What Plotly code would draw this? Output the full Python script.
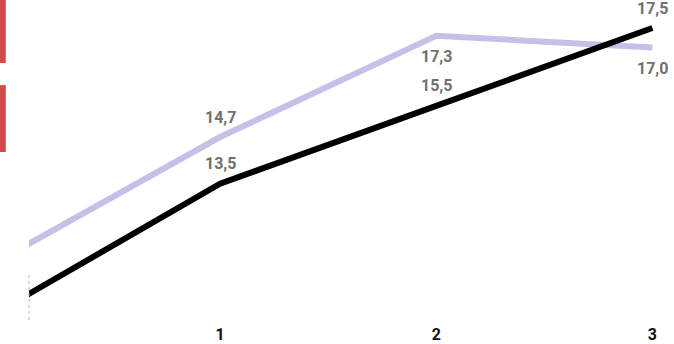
import plotly.graph_objects as go

x_vals = [0, 1, 2, 3]
tick_labels = ["0", "1", "2", "3"]
series_a = [11.6, 14.7, 17.3, 17.0]   # lavender
series_b = [10.3, 13.5, 15.5, 17.5]   # black
label_a_pos = [None, "above", "below", "below"]
label_b_pos = [None, "above", "above", "above"]

def fmt(v):
    return f"{v:.1f}".replace(".", ",")

fig = go.Figure()
fig.add_trace(go.Scatter(x=x_vals, y=series_a, mode="lines",
                         line=dict(color="#c8bfe8", width=6), hoverinfo="skip"))
fig.add_trace(go.Scatter(x=x_vals, y=series_b, mode="lines",
                         line=dict(color="#000000", width=6), hoverinfo="skip"))

annotations = []
for xs, ys, pos in [(x_vals, series_a, label_a_pos), (x_vals, series_b, label_b_pos)]:
    for xv, yv, p in zip(xs, ys, pos):
        if p is None:
            continue
        annotations.append(dict(x=xv, y=yv, xref="x", yref="y", text=fmt(yv),
                                showarrow=False, yshift=20 if p == "above" else -21,
                                font=dict(family="Roboto", size=16, color="#707070",
                                          weight="bold")))

shapes = [
    dict(type="rect", xref="paper", yref="paper", x0=-0.045, x1=-0.036, y0=0.803, y1=1.0,
         fillcolor="#cc4b4b", line=dict(width=0), layer="above"),
    dict(type="rect", xref="paper", yref="paper", x0=-0.045, x1=-0.036, y0=0.525, y1=0.734,
         fillcolor="#cc4b4b", line=dict(width=0), layer="above"),
    dict(type="line", xref="paper", yref="paper", x0=0, x1=0, y0=0, y1=0.147,
         line=dict(color="#9cb8d8", width=1, dash="dot")),
]

fig.update_layout(
    width=674, height=344,
    margin=dict(l=29, r=0, t=0, b=24, autoexpand=False),
    paper_bgcolor="white", plot_bgcolor="white",
    showlegend=False,
    annotations=annotations,
    shapes=shapes,
    xaxis=dict(range=[0.116, 3.10], tickvals=x_vals, ticktext=tick_labels,
               showgrid=False, zeroline=False, showline=False, ticks="",
               automargin=False, ticklabelstandoff=3,
               tickfont=dict(family="Roboto", size=16, color="#111111", weight="bold")),
    yaxis=dict(range=[10.0, 18.22], showgrid=False, zeroline=False, showline=False,
               showticklabels=False, ticks="", automargin=False),
)
fig.write_html("out.html", config={"displayModeBar": False},
               post_script="document.body.style.margin='0';document.body.style.overflow='hidden';")
